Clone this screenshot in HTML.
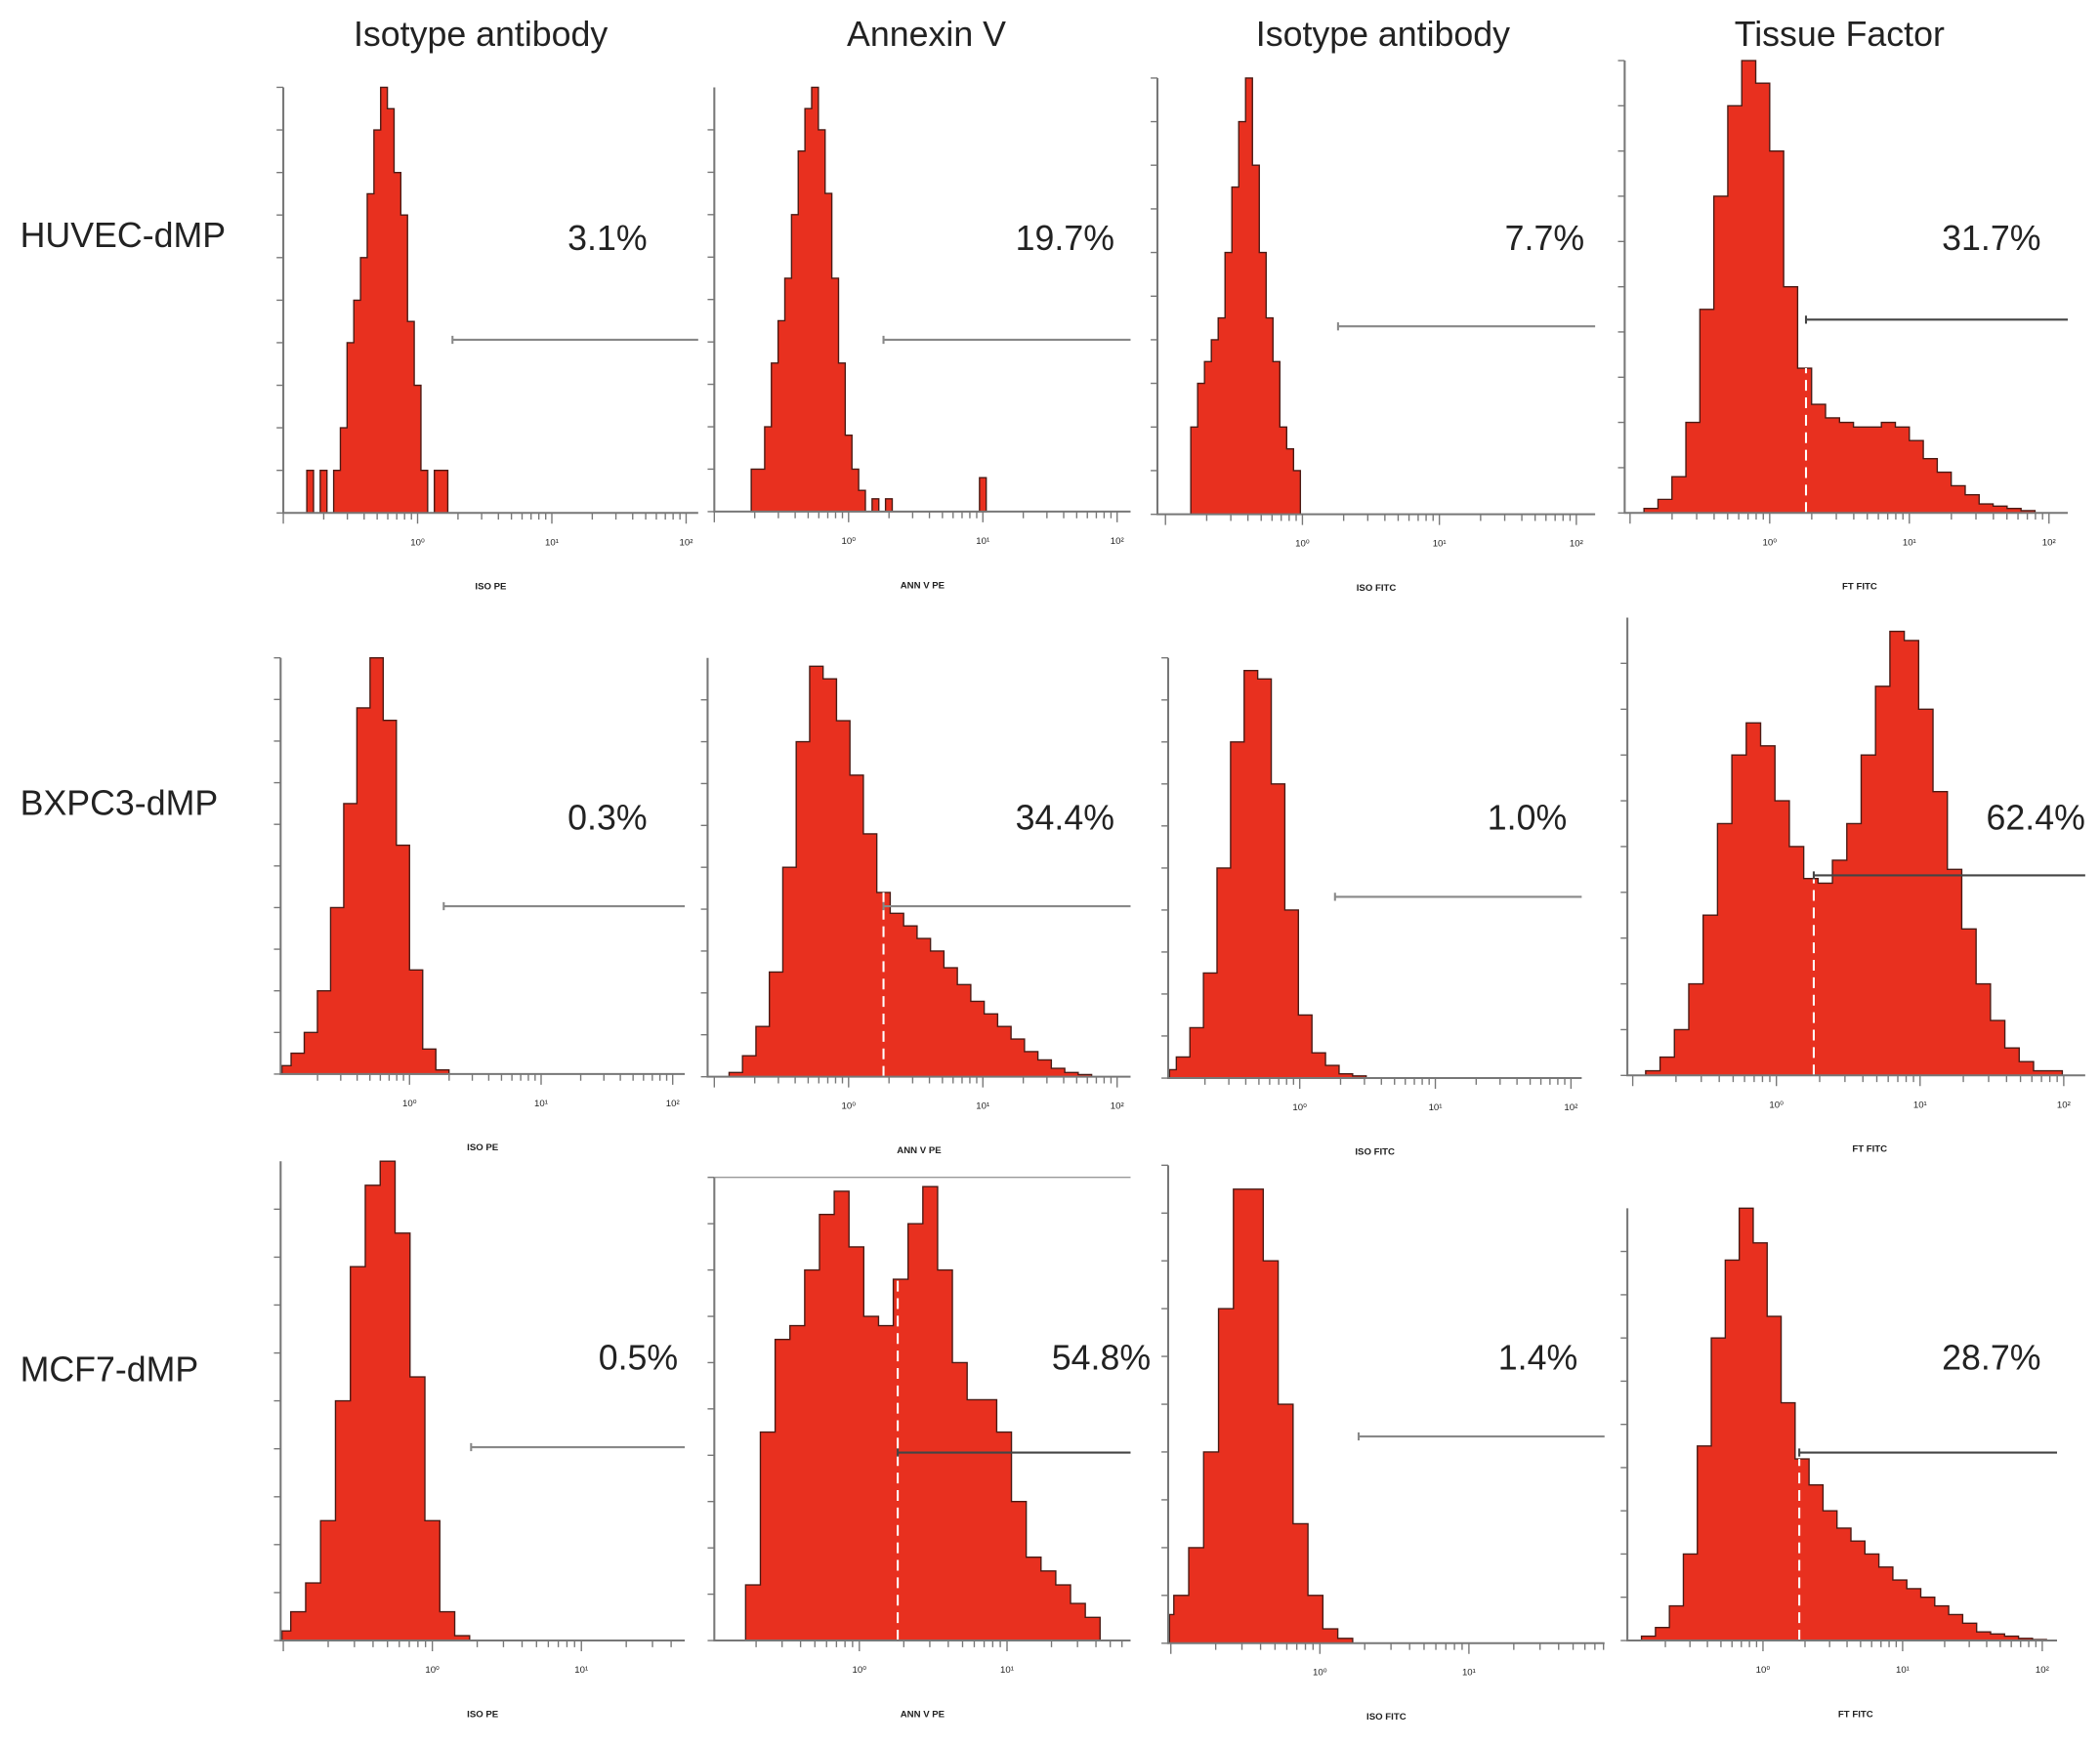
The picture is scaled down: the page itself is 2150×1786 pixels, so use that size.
<!DOCTYPE html>
<html><head><meta charset="utf-8"><style>
html,body{margin:0;padding:0;background:#fff}
svg{display:block}
text{font-family:"Liberation Sans",sans-serif;fill:#222}
</style></head><body>
<svg id="fig" width="2150" height="1786" viewBox="0 0 1564 1299" xmlns="http://www.w3.org/2000/svg">
<g font-size="26">
<text x="358" y="34" text-anchor="middle">Isotype antibody</text>
<text x="690" y="34" text-anchor="middle">Annexin V</text>
<text x="1030" y="34" text-anchor="middle">Isotype antibody</text>
<text x="1370" y="34" text-anchor="middle">Tissue Factor</text>
</g>
<g font-size="26">
<text x="15" y="184">HUVEC-dMP</text>
<text x="15" y="607">BXPC3-dMP</text>
<text x="15" y="1029">MCF7-dMP</text>
</g>
<g id="panels"></g>
</svg>
<script>
// histogram data: first bin centre (log10), step, relative heights
const p1Start=-0.8, p1Step=0.05;
const p1Heights=[0.1,0,0.1,0,0.1,0.2,0.4,0.5,0.6,0.75,0.9,1.0,0.95,0.8,0.7,0.45,0.3,0.1,0,0.1,0.1];
const p2Start=-0.7, p2Step=0.05;
const p2Heights=[0.1,0.1,0.2,0.35,0.45,0.55,0.7,0.85,0.95,1.0,0.9,0.75,0.55,0.35,0.18,0.1,0.05,0,0.03,0,0.03,0,0,0,0,0,0,0,0,0,0,0,0,0,0.08];
const p3Start=-0.79, p3Step=0.05;
const p3Heights=[0.2,0.3,0.35,0.4,0.45,0.6,0.75,0.9,1.0,0.8,0.6,0.45,0.35,0.2,0.15,0.1,0];
const p4Start=-0.85, p4Step=0.1;
const p4Heights=[0.01,0.03,0.08,0.2,0.45,0.7,0.9,1.0,0.95,0.8,0.5,0.32,0.24,0.21,0.2,0.19,0.19,0.2,0.19,0.16,0.12,0.09,0.06,0.04,0.02,0.015,0.01,0.005];
const p5Start=-1.05, p5Step=0.1;
const p5Heights=[0,0.02,0.05,0.1,0.2,0.4,0.65,0.88,1.0,0.85,0.55,0.25,0.06,0.01];
const p6Start=-0.84, p6Step=0.1;
const p6Heights=[0.01,0.05,0.12,0.25,0.5,0.8,0.98,0.95,0.85,0.72,0.58,0.44,0.39,0.36,0.33,0.3,0.26,0.22,0.18,0.15,0.12,0.09,0.06,0.04,0.02,0.01,0.005];
const p7Start=-0.96, p7Step=0.1;
const p7Heights=[0.02,0.05,0.12,0.25,0.5,0.8,0.97,0.95,0.7,0.4,0.15,0.06,0.03,0.01,0.005];
const p8Start=-0.86, p8Step=0.1;
const p8Heights=[0.01,0.04,0.1,0.2,0.35,0.55,0.7,0.77,0.72,0.6,0.5,0.43,0.42,0.47,0.55,0.7,0.85,0.97,0.95,0.8,0.62,0.45,0.32,0.2,0.12,0.06,0.03,0.01,0.01];
const p9Start=-1.1, p9Step=0.1;
const p9Heights=[0,0.02,0.06,0.12,0.25,0.5,0.78,0.95,1.0,0.85,0.55,0.25,0.06,0.01];
const p10Start=-0.82, p10Step=0.1;
const p10Heights=[0,0.12,0.45,0.65,0.68,0.8,0.92,0.97,0.85,0.7,0.68,0.78,0.9,0.98,0.8,0.6,0.52,0.52,0.45,0.3,0.18,0.15,0.12,0.08,0.05];
const p11Start=-1.13, p11Step=0.1;
const p11Heights=[0.05,0.06,0.1,0.2,0.4,0.7,0.95,0.95,0.8,0.5,0.25,0.1,0.03,0.01];
const p12Start=-0.82, p12Step=0.1;
const p12Heights=[0.01,0.03,0.08,0.2,0.45,0.7,0.88,1.0,0.92,0.75,0.55,0.42,0.36,0.3,0.26,0.23,0.2,0.17,0.14,0.12,0.1,0.08,0.06,0.04,0.02,0.015,0.01,0.005,0.002];
const percents=["3.1%","19.7%","7.7%","31.7%","0.3%","34.4%","1.0%","62.4%","0.5%","54.8%","1.4%","28.7%"];
const xLabels=["ISO PE","ANN V PE","ISO FITC","FT FITC"];
const gateLog=0.26;

const L=[
{x0:211,x1:520,top:65,base:382,z:311,dec:100,gy:253,px:482,py:186,dash:false},
{x0:532,x1:842,top:65,base:381,z:632,dec:100,gy:253,px:830,py:186,dash:false},
{x0:862,x1:1188,top:58,base:383,z:970,dec:102,gy:243,px:1180,py:186,dash:false},
{x0:1210,x1:1540,top:45,base:382,z:1318,dec:104,gy:238,px:1520,py:186,dash:true},
{x0:209,x1:510,top:490,base:800,z:305,dec:98,gy:675,px:482,py:618,dash:false},
{x0:527,x1:842,top:490,base:802,z:632,dec:100,gy:675,px:830,py:618,dash:true},
{x0:870,x1:1178,top:490,base:803,z:968,dec:101,gy:668,px:1167,py:618,dash:false},
{x0:1212,x1:1553,top:460,base:801,z:1323,dec:107,gy:652,px:1553,py:618,dash:true},
{x0:209,x1:510,top:865,base:1222,z:322,dec:111,gy:1078,px:505,py:1020,dash:false},
{x0:532,x1:842,top:877,base:1222,z:640,dec:110,gy:1082,px:857,py:1020,dash:true},
{x0:870,x1:1195,top:868,base:1224,z:983,dec:111,gy:1070,px:1175,py:1020,dash:false},
{x0:1212,x1:1532,top:900,base:1222,z:1313,dec:104,gy:1082,px:1520,py:1020,dash:true}
];
const starts=[p1Start,p2Start,p3Start,p4Start,p5Start,p6Start,p7Start,p8Start,p9Start,p10Start,p11Start,p12Start];
const steps=[p1Step,p2Step,p3Step,p4Step,p5Step,p6Step,p7Step,p8Step,p9Step,p10Step,p11Step,p12Step];
const heights=[p1Heights,p2Heights,p3Heights,p4Heights,p5Heights,p6Heights,p7Heights,p8Heights,p9Heights,p10Heights,p11Heights,p12Heights];

const NS="http://www.w3.org/2000/svg";
const root=document.getElementById('panels');
function mk(tag,attrs,parent){const e=document.createElementNS(NS,tag);for(const k in attrs)e.setAttribute(k,attrs[k]);parent.appendChild(e);return e;}

L.forEach((p,i)=>{
  const g=mk('g',{},root);
  
  
  const xs=v=>p.z+v*p.dec;
  const xc=v=>Math.max(p.x0+1,Math.min(p.x1,xs(v)));
  const ys=h=>p.base-h*(p.base-p.top);
  const hs=heights[i],s0=starts[i],st=steps[i];
  const lo=s0-st/2;
  let d='M'+xc(lo)+','+p.base;
  hs.forEach((h,k)=>{const a=xc(lo+k*st),b=xc(lo+(k+1)*st);d+=' L'+a+','+ys(h)+' L'+b+','+ys(h);});
  d+=' L'+xc(lo+hs.length*st)+','+p.base+' Z';
  const path=mk('path',{d:d,fill:'#e8301f',stroke:'#4a1a14','stroke-width':'1'},g);
  
  
  if(p.dash){
    let k=Math.floor((gateLog-lo)/st);let hh=hs[Math.max(0,Math.min(hs.length-1,k))]||0;
    const dl=mk('line',{x1:xs(gateLog),x2:xs(gateLog),y1:p.base,y2:ys(hh),stroke:'#fff','stroke-width':'1.5','stroke-dasharray':'8,5'},g);
    
    
  }
  const ax=mk('path',{d:'M'+p.x0+','+p.top+' L'+p.x0+','+p.base+' L'+p.x1+','+p.base,fill:'none',stroke:'#777','stroke-width':'1.5'},g);
  
  
  if(i===9){const tb=mk('line',{x1:p.x0,x2:p.x1,y1:p.top,y2:p.top,stroke:'#999','stroke-width':'1'},g);
    
    }
  let td='';
  for(let y=p.base;y>=p.top;y-=(p.base-p.top)/10){td+='M'+(p.x0-5)+','+y+' L'+p.x0+','+y+' ';}
  for(let dd=-1;dd<=2;dd++){for(let m=1;m<=9;m++){const x=xs(dd+Math.log10(m));if(x<p.x0||x>p.x1)continue;td+='M'+x+','+p.base+' L'+x+','+(p.base+(m===1?8:5))+' ';}}
  const ticks=mk('path',{d:td,stroke:'#777','stroke-width':'1',fill:'none'},g);
  
  
  for(let dd=0;dd<=2;dd++){const x=xs(dd);if(x>p.x1+5)continue;
    const t=mk('text',{x:x,y:p.base+24,'font-size':'7','text-anchor':'middle'},g);t.textContent='10'+['⁰','¹','²'][dd];
    
    }
  const xl=mk('text',{x:(p.x0+p.x1)/2+(i%4===3?10:0),y:p.base+57,'font-size':'7','font-weight':'bold','text-anchor':'middle'},g);
  xl.textContent=xLabels[i%4];
  
  
  const gx=xs(gateLog);
  const gl=mk('path',{d:'M'+gx+','+p.gy+' L'+p.x1+','+p.gy+' M'+gx+','+(p.gy-3)+' L'+gx+','+(p.gy+3),stroke:i%4===3||i===9?'#444':'#888','stroke-width':'1.5',fill:'none'},g);
  
  
  const pt=mk('text',{x:p.px,y:p.py,'font-size':'26','text-anchor':'end'},g);
  pt.textContent=percents[i];
  
  
});
</script>
</body></html>
